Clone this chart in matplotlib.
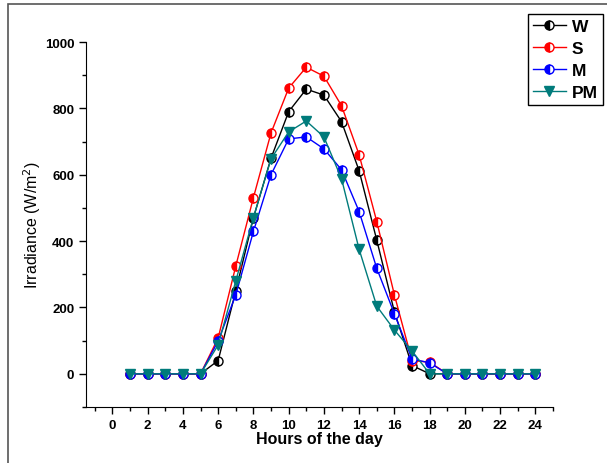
import numpy as np
import matplotlib
matplotlib.use('Agg')
import matplotlib.pyplot as plt
from matplotlib.patches import Rectangle

plt.rcParams['font.family'] = ['Liberation Sans', 'DejaVu Sans']

hours = np.arange(1, 25)
W = [0, 0, 0, 0, 0, 40, 250, 470, 650, 790, 858, 840, 760, 612, 403, 187, 25, 0, 0, 0, 0, 0, 0, 0]
S = [0, 0, 0, 0, 0, 108, 325, 531, 726, 861, 924, 897, 808, 660, 459, 238, 40, 35, 0, 0, 0, 0, 0, 0]
M = [0, 0, 0, 0, 0, 99, 238, 429, 600, 708, 714, 678, 615, 489, 318, 181, 45, 33, 0, 0, 0, 0, 0, 0]
PM = [0, 0, 0, 0, 0, 87, 280, 471, 648, 729, 762, 714, 588, 375, 204, 132, 69, 0, 0, 0, 0, 0, 0, 0]

teal = '#007b7b'

fig = plt.figure(figsize=(6.07, 4.64), dpi=100)
ax = fig.add_axes([0.1417, 0.1207, 0.7693, 0.7866])

# outer frame (only left/top visible in the original)
fig.patches.append(Rectangle((8/607, -0.1), 1.2, 1 - 5/464 + 0.1, transform=fig.transFigure,
                             fill=False, edgecolor='#555555', linewidth=1.2))

circ = dict(marker='o', markersize=6.5, fillstyle='left', markerfacecoloralt='white', linewidth=1)
ax.plot(hours, W, color='black', markerfacecolor='black', markeredgecolor='black', label='W', **circ)
ax.plot(hours, S, color='red', markerfacecolor='red', markeredgecolor='red', label='S', **circ)
ax.plot(hours, M, color='blue', markerfacecolor='blue', markeredgecolor='blue', label='M', **circ)
ax.plot(hours, PM, color=teal, marker='v', markersize=7.5, linewidth=1, label='PM')

ax.set_xlim(-1.5, 25)
ax.set_ylim(-100, 1000)
ax.set_xticks(np.arange(0, 25, 2))
ax.set_xticks(np.arange(-1, 26, 2), minor=True)
ax.set_yticks(np.arange(0, 1001, 200))
ax.set_yticks(np.arange(-100, 1001, 200), minor=True)
for s in ['top', 'right']:
    ax.spines[s].set_visible(False)
ax.tick_params(axis='both', which='major', length=5, width=1, labelsize=9.5, direction='out')
ax.tick_params(axis='both', which='minor', length=3, width=1, direction='out')
for lab in ax.get_xticklabels() + ax.get_yticklabels():
    lab.set_fontweight('bold')

ax.set_xlabel('Hours of the day', fontsize=11.5, fontweight='bold', labelpad=0)
ax.set_ylabel('Irradiance (W/m$^2$)', fontsize=11.5, labelpad=1)

leg = ax.legend(loc='upper right', bbox_to_anchor=(603/607, 1 - 15/464), bbox_transform=fig.transFigure,
                fancybox=False, framealpha=1, edgecolor='black', prop={'weight': 'bold', 'size': 12.5},
                handlelength=1.9, handletextpad=0.35, borderpad=0.3, labelspacing=0.38, borderaxespad=0)
leg.get_frame().set_linewidth(1)

fig.savefig('out.png', dpi=100)
